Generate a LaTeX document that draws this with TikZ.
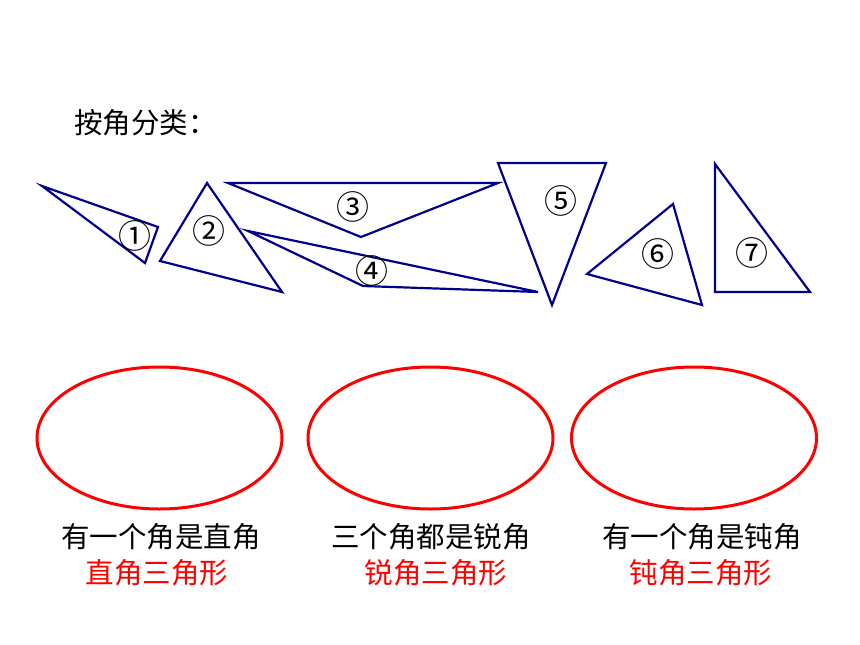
\documentclass[tikz,border=0pt]{standalone}
\usepackage{fontspec}
\newfontfamily\cjk{Noto Sans CJK SC}
\usetikzlibrary{shapes.geometric}
\definecolor{navy}{RGB}{0,0,139}
\definecolor{myred}{RGB}{255,0,0}
\tikzset{
  tri/.style={draw=navy, line width=2.2pt, line join=miter},
  num/.style={font=\cjk\fontsize{33}{33}\selectfont, inner sep=0pt},
  txt/.style={font=\cjk\fontsize{28.5}{28.5}\selectfont, inner sep=0pt},
  oval/.style={ellipse, draw=myred, line width=3pt, minimum width=245pt, minimum height=142pt, inner sep=0pt},
}
\begin{document}
\begin{tikzpicture}[x=1pt,y=-1pt]
\useasboundingbox (0,0) rectangle (860,645);
% title
\node[txt, anchor=west] (title) at (74,123) {按角分类：};
% triangle 1
\coordinate (a1) at (42,186); \coordinate (b1) at (158,227); \coordinate (c1) at (145,263);
\draw[tri] (a1) -- (b1) -- (c1) -- cycle;
\node[num] (n1) at (135,236) {①};
% triangle 2
\coordinate (a2) at (207,183); \coordinate (b2) at (160,261); \coordinate (c2) at (282,292);
\draw[tri] (a2) -- (b2) -- (c2) -- cycle;
\node[num] (n2) at (209,231) {②};
% triangle 3
\coordinate (a3) at (228,183); \coordinate (b3) at (498,183); \coordinate (c3) at (361,237);
\draw[tri] (a3) -- (b3) -- (c3) -- cycle;
\node[num] (n3) at (353,207) {③};
% triangle 4
\coordinate (a4) at (248,231); \coordinate (b4) at (363,286); \coordinate (c4) at (538,292);
\draw[tri] (a4) -- (b4) -- (c4) -- cycle;
\node[num] (n4) at (372,271) {④};
% triangle 5
\coordinate (a5) at (498,163); \coordinate (b5) at (606,163); \coordinate (c5) at (552,305);
\draw[tri] (a5) -- (b5) -- (c5) -- cycle;
\node[num] (n5) at (561,201) {⑤};
% triangle 6
\coordinate (a6) at (587,274); \coordinate (b6) at (673,204); \coordinate (c6) at (702,305);
\draw[tri] (a6) -- (b6) -- (c6) -- cycle;
\node[num] (n6) at (658,254) {⑥};
% triangle 7
\coordinate (a7) at (715,164); \coordinate (b7) at (715,292); \coordinate (c7) at (810,292);
\draw[tri] (a7) -- (b7) -- (c7) -- cycle;
\node[num] (n7) at (752,253) {⑦};
% ovals
\node[oval] (e1) at (159.5,438) {};
\node[oval] (e2) at (430.5,438) {};
\node[oval] (e3) at (694,438) {};
% captions
\node[txt] (d1) at (161,537) {有一个角是直角};
\node[txt, text=myred] (r1) at (157,573) {直角三角形};
\node[txt] (d2) at (431,537) {三个角都是锐角};
\node[txt, text=myred] (r2) at (436,573) {锐角三角形};
\node[txt] (d3) at (702,537) {有一个角是钝角};
\node[txt, text=myred] (r3) at (701,573) {钝角三角形};
\end{tikzpicture}
\end{document}
